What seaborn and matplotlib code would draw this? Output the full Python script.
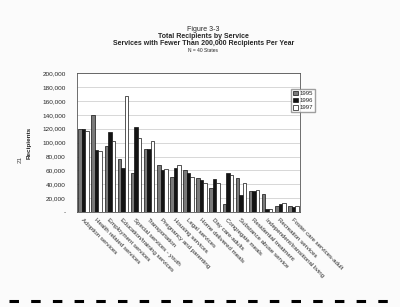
import pandas as pd
import numpy as np
import matplotlib
matplotlib.use("Agg")
import matplotlib.pyplot as plt
import seaborn as sns
from matplotlib.ticker import FuncFormatter
from matplotlib.lines import Line2D

services = ["Adoption services", "Health related services", "Employment services",
            "Education/training services", "Special services - youth", "Transportation",
            "Pregnancy and parenting", "Housing services", "Legal services",
            "Home delivered meals", "Day care-adults", "Congregate meals",
            "Substance abuse service", "Residential treatment",
            "Independent/transitional living", "Recreation services",
            "Foster care services-adult"]
years = ["1995", "1996", "1997"]
v1995 = [119000, 139000, 95000, 77000, 57000, 91000, 68000, 51000, 60000, 49000,
         34000, 12000, 49000, 31000, 26000, 9000, 9000]
v1996 = [119000, 89000, 115000, 64000, 123000, 91000, 60000, 63000, 56000, 46000,
         48000, 56000, 25000, 31000, 5000, 12000, 8000]
v1997 = [117000, 88000, 102000, 167000, 106000, 103000, 62000, 68000, 50000, 42000,
         42000, 54000, 42000, 32000, 5000, 13000, 9000]

df = pd.DataFrame({"Service": services * 3,
                   "Year": [y for y in years for _ in services],
                   "Recipients": v1995 + v1996 + v1997})

sns.set_style("white")
plt.rcParams['font.family'] = ['Liberation Sans', 'DejaVu Sans']

fig = plt.figure(figsize=(4, 3.07), dpi=100)
fig.patch.set_facecolor("#fbfbfb")
ax = fig.add_axes([0.1925, 0.309, 0.5575, 0.453])

palette = {"1995": "#7a7a7a", "1996": "#141414", "1997": "#ffffff"}
sns.barplot(data=df, x="Service", y="Recipients", hue="Year", palette=palette,
            edgecolor="#111111", linewidth=0.5, width=0.8, ax=ax, zorder=3)

ax.set_ylim(0, 200000)
ax.set_yticks(np.arange(0, 200001, 20000))
ax.yaxis.set_major_formatter(FuncFormatter(lambda v, p: "-" if v == 0 else f"{int(v):,}"))
ax.grid(axis="y", color="#c8c8c8", linewidth=0.5, zorder=0)
ax.set_facecolor("white")
for s in ax.spines.values():
    s.set_color("#555555")
    s.set_linewidth(0.6)
ax.tick_params(axis="y", labelsize=4.6, length=0, pad=8)
ax.tick_params(axis="x", length=1.5, width=0.5, labelsize=4.4, pad=2)
ax.set_xticks(range(len(services)))
ax.set_xticklabels(services, rotation=-45, ha="left", rotation_mode="anchor")
ax.set_xlabel("")
ax.set_ylabel("Recipients", fontsize=4.6, fontweight="bold", labelpad=8)

ax.legend(title=None, fontsize=4.3, loc="upper left", bbox_to_anchor=(0.72, 0.72),
          bbox_transform=fig.transFigure, frameon=True, fancybox=False,
          edgecolor="#888888", handlelength=0.8, handleheight=0.8,
          handletextpad=0.3, borderpad=0.3, labelspacing=0.3)

fig.text(0.508, 0.9, "Figure 3-3", ha="center", fontsize=5)
fig.text(0.508, 0.876, "Total Recipients by Service", ha="center", fontsize=5, fontweight="bold")
fig.text(0.508, 0.852, "Services with Fewer Than 200,000 Recipients Per Year", ha="center",
         fontsize=5, fontweight="bold")
fig.text(0.508, 0.83, "N = 40 States", ha="center", fontsize=3.5)
fig.text(0.05, 0.48, "21", rotation=90, ha="center", va="center", fontsize=4.5, color="#444444")

# punched-page dashes along the bottom
fig.add_artist(Line2D([0.022, 0.98], [0.02, 0.02], transform=fig.transFigure,
                      color="black", linewidth=2.2, dashes=(3.1, 4.0)))

fig.savefig("out.png", dpi=100, facecolor=fig.get_facecolor())
